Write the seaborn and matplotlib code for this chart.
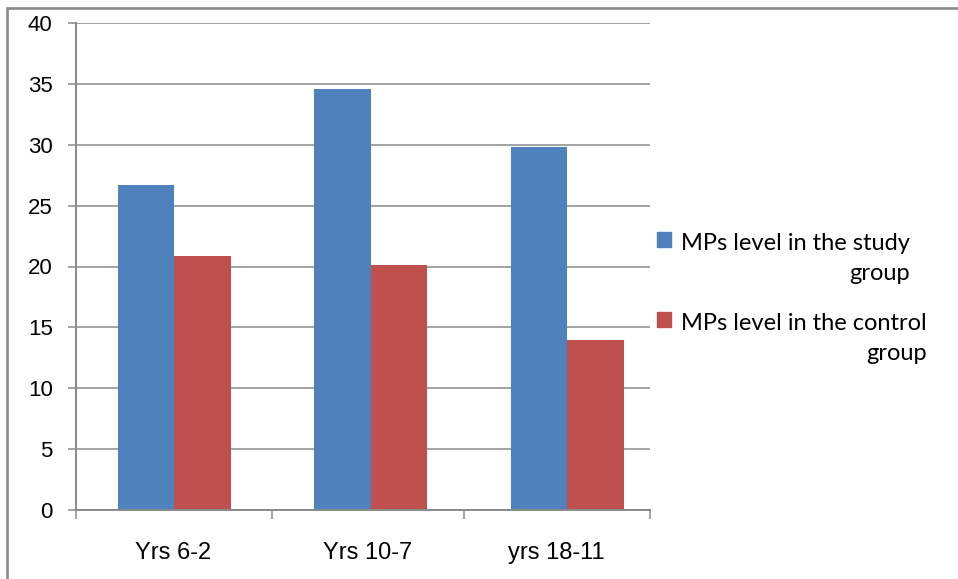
import pandas as pd
import seaborn as sns
import matplotlib.pyplot as plt
from matplotlib.patches import Rectangle
from matplotlib.ticker import FixedLocator

# data
periods = ['Yrs 6-2', 'Yrs 10-7', 'yrs 18-11']
study_group = [26.7, 34.6, 29.8]
control_group = [20.9, 20.1, 14.0]
series_names = ['MPs level in the study\ngroup', 'MPs level in the control\ngroup']
colors = ['#4F81BD', '#C0504D']

df = pd.DataFrame({
    'period': periods * 2,
    'value': study_group + control_group,
    'series': [series_names[0]] * 3 + [series_names[1]] * 3,
})

sns.set_theme(style='white')
plt.rcParams['font.family'] = ['Liberation Sans', 'DejaVu Sans']

W, H = 958, 579
fig = plt.figure(figsize=(W / 100, H / 100), dpi=100)
ax = fig.add_axes([76 / W, 1 - 510 / H, (650 - 76) / W, (510 - 23) / H])

sns.barplot(data=df, x='period', y='value', hue='series', order=periods,
            hue_order=series_names, palette=colors, saturation=1,
            width=0.575, legend=False, ax=ax, linewidth=0, zorder=3)

grid_c = '#8A8A8A'
ax.set_ylim(0, 40)
# the original's bar groups sit a little wider apart than its category cells
ax.set_xlim(-0.5, 2.42)
ax.set_yticks(range(0, 41, 5))
ax.yaxis.grid(True, color=grid_c, linewidth=1.1, zorder=0)
ax.set_xlabel('')
ax.set_ylabel('')

for side in ['top', 'right']:
    ax.spines[side].set_visible(False)
for side in ['left', 'bottom']:
    ax.spines[side].set_color(grid_c)
    ax.spines[side].set_linewidth(1.4)
    ax.spines[side].set_zorder(4)

ax.set_xticks([-0.005, 0.985, 1.944], labels=periods)
ax.tick_params(axis='y', which='major', left=True, length=5.8, width=1.1,
               color=grid_c, pad=11, labelsize=16, labelcolor='black')
ax.tick_params(axis='x', which='major', bottom=False, length=0, pad=23,
               labelsize=17, labelcolor='black')
ax.xaxis.set_minor_locator(FixedLocator([-0.5, 0.496, 1.473, 2.42]))
ax.tick_params(axis='x', which='minor', bottom=True, length=6.5, width=1.1,
               color=grid_c)

# legend drawn beside the plot, squares level with the first text line
legend_rows = [247, 327]
line_gap = 32.5
for base, name, col in zip(legend_rows, series_names, colors):
    fig.patches.append(Rectangle((657 / W, 1 - base / H), 14 / W, 15 / H,
                                 transform=fig.transFigure, color=col))
    fig.text(681 / W, 1 - (base + line_gap) / H, name, ha='left', va='baseline',
             multialignment='right', fontsize=17, linespacing=1.5,
             family=['Lato', 'DejaVu Sans'], color='black')

# outer frame (only the top and left edges fall inside the picture)
fig.patches.append(Rectangle((6.5 / W, -0.2), 2, 1.2 - 7.5 / H, fill=False,
                             edgecolor=grid_c, linewidth=1.9,
                             transform=fig.transFigure, clip_on=False))

fig.savefig('out.png', dpi=100)
